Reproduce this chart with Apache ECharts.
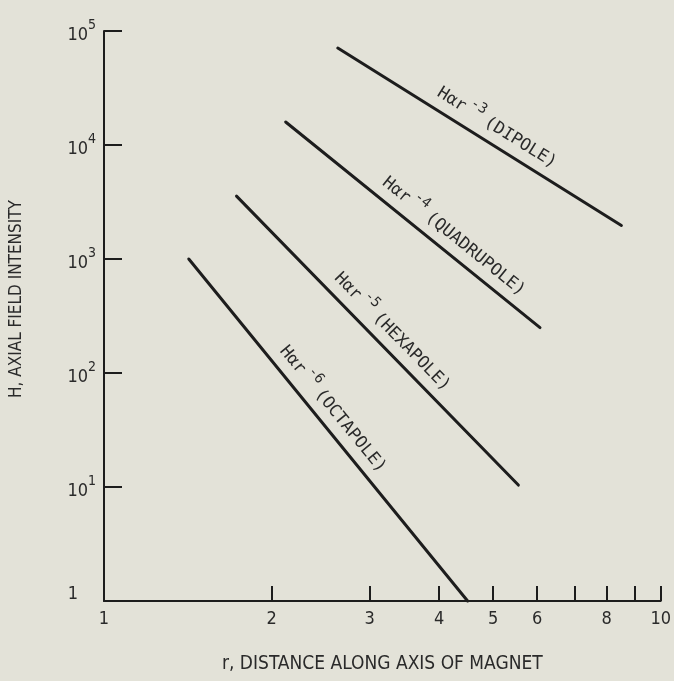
<!DOCTYPE html>
<html>
<head>
<meta charset="utf-8">
<title>Axial field intensity of multipole magnets</title>
<script src="https://cdn.jsdelivr.net/npm/echarts/dist/echarts.min.js"></script>
<style>
  html, body { margin: 0; padding: 0; background: #e3e2d8; }
  #chart { width: 674px; height: 681px; }
</style>
</head>
<body>
<div id="chart"></div>
<script>
// Tick positions and labels along the two logarithmic axes
const xTicks = [1, 2, 3, 4, 5, 6, 7, 8, 9, 10];
const xTickLabels = [1, 2, 3, 4, 5, 6, 8, 10];
const yTicks = [1, 10, 100, 1000, 10000, 100000];

// Each multipole's field fall-off, as (r, H) end points of its straight line
const multipoleNames = ['DIPOLE', 'QUADRUPOLE', 'HEXAPOLE', 'OCTAPOLE'];
const exponents = ['-3', '-4', '-5', '-6'];
const dipole = [[2.63, 71000], [8.5, 1970]];
const quadrupole = [[2.12, 15900], [6.07, 250]];
const hexapole = [[1.73, 3560], [5.55, 10.4]];
const octapole = [[1.42, 1000], [4.5, 1]];
const multipoleLines = [dipole, quadrupole, hexapole, octapole];

// Where each line's caption sits: fraction along the line, and gap above it (px)
const captionAlong = [0.53, 0.62, 0.51, 0.47];
const captionGap = 20;

const ink = '#1d1d1d';
const textInk = '#2a2a2a';
const axisFont = "'Liberation Sans Narrow', 'DejaVu Sans Condensed', 'Roboto Condensed', 'Liberation Sans', sans-serif";
const captionFont = "'DejaVu Sans Mono', 'Liberation Mono', monospace";

const chart = echarts.init(document.getElementById('chart'), null, { renderer: 'canvas' });

const option = {
  backgroundColor: '#e3e2d8',
  animation: false,
  grid: { left: 94, top: 31, width: 572, height: 570, containLabel: false },
  xAxis: {
    type: 'log',
    logBase: 10,
    min: 1,
    max: 10,
    name: 'r, DISTANCE ALONG AXIS OF MAGNET',
    nameLocation: 'middle',
    nameGap: 54,
    nameTextStyle: { color: textInk, fontFamily: axisFont, fontSize: 19 },
    axisLine: { show: true, lineStyle: { color: ink, width: 2 } },
    axisTick: { show: true, inside: true, length: 15, customValues: xTicks, lineStyle: { color: ink, width: 2 } },
    minorTick: { show: false },
    splitLine: { show: false },
    axisLabel: {
      customValues: xTickLabels,
      margin: 9,
      color: textInk,
      fontFamily: axisFont,
      fontSize: 18,
      formatter: v => String(Math.round(v))
    }
  },
  yAxis: {
    type: 'log',
    logBase: 10,
    min: 1,
    max: 100000,
    name: 'H, AXIAL FIELD INTENSITY',
    nameLocation: 'middle',
    nameRotate: 90,
    nameGap: 79,
    nameTextStyle: { color: textInk, fontFamily: axisFont, fontSize: 17, padding: [0, 0, 0, 34] },
    axisLine: { show: true, lineStyle: { color: ink, width: 2 } },
    axisTick: { show: true, inside: true, length: 18, customValues: yTicks, lineStyle: { color: ink, width: 2 } },
    minorTick: { show: false },
    splitLine: { show: false },
    axisLabel: {
      customValues: yTicks,
      margin: 8,
      color: textInk,
      formatter: v => {
        const p = Math.round(Math.log10(v));
        return p === 0 ? '{one|1}' : '{n|10}{s|' + p + '}';
      },
      rich: {
        n: { fontFamily: axisFont, fontSize: 18, lineHeight: 26, verticalAlign: 'bottom', color: textInk },
        s: { fontFamily: axisFont, fontSize: 14, lineHeight: 14, verticalAlign: 'top', color: textInk },
        one: { fontFamily: axisFont, fontSize: 18, lineHeight: 32, verticalAlign: 'top', color: textInk, padding: [0, 18, 0, 0] }
      }
    }
  },
  series: multipoleLines.map((pts, i) => ({
    name: multipoleNames[i],
    type: 'line',
    data: pts,
    showSymbol: false,
    symbol: 'none',
    clip: false,
    lineStyle: { color: ink, width: 3, cap: 'round' }
  }))
};

chart.setOption(option);

// Captions written along each line, derived from the line's own pixel geometry
const captionRich = {
  n: { fontFamily: captionFont, fontSize: 17, lineHeight: 24, verticalAlign: 'bottom', fill: textInk, color: textInk },
  s: { fontFamily: captionFont, fontSize: 14, lineHeight: 15, verticalAlign: 'top', fill: textInk, color: textInk, padding: [0, 5, 0, 3] }
};

const captions = multipoleLines.map((pts, i) => {
  const a = chart.convertToPixel({ gridIndex: 0 }, pts[0]);
  const b = chart.convertToPixel({ gridIndex: 0 }, pts[1]);
  const dx = b[0] - a[0], dy = b[1] - a[1];
  const len = Math.hypot(dx, dy);
  const ux = dx / len, uy = dy / len;
  const t = captionAlong[i];
  const cx = a[0] + dx * t + uy * captionGap;
  const cy = a[1] + dy * t - ux * captionGap;
  return {
    type: 'text',
    x: cx,
    y: cy,
    rotation: -Math.atan2(dy, dx),
    silent: true,
    style: {
      text: '{n|H\u03b1r}{s|' + exponents[i] + '}{n|(' + multipoleNames[i] + ')}',
      align: 'center',
      verticalAlign: 'middle',
      fill: textInk,
      rich: captionRich
    }
  };
});

chart.setOption({ graphic: captions });
</script>
</body>
</html>
